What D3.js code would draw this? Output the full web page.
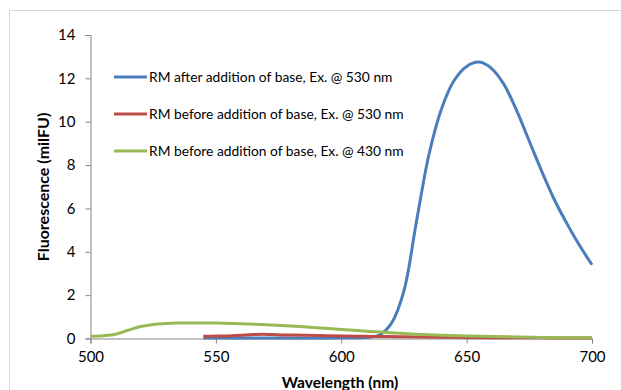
<!DOCTYPE html>
<html><head><meta charset="utf-8">
<script src="https://cdn.jsdelivr.net/npm/d3@7"></script>
<style>
body{margin:0;background:#fff;}
svg{display:block;font-family:Lato,"Open Sans",sans-serif;}
</style></head>
<body><svg id="c" width="621" height="390"></svg>
<script>
const xTicks = [500, 550, 600, 650, 700];
const yTicks = [0, 2, 4, 6, 8, 10, 12, 14];
const seriesNames = [
  "RM after addition of base, Ex. @ 530 nm",
  "RM before addition of base, Ex. @ 530 nm",
  "RM before addition of base, Ex. @ 430 nm"
];
const seriesColors = ["#4A7EBB", "#BE4B48", "#98B954"];

const waveAfter530 = [545,550,555,560,565,570,575,580,585,590,595,600,605,610,615,620,625,630,635,640,645,650,655,660,665,670,675,680,685,690,695,700];
const fluoAfter530 = [0.02,0.02,0.02,0.02,0.02,0.02,0.02,0.02,0.02,0.02,0.02,0.03,0.03,0.05,0.15,0.7,2.2,5.4,8.5,10.6,11.9,12.55,12.75,12.45,11.7,10.5,9.1,7.7,6.4,5.3,4.3,3.4];

const waveBefore530 = [545,550,555,560,565,570,575,580,590,600,610,620,630,640,650,660,670,680,690,700];
const fluoBefore530 = [0.1,0.11,0.12,0.15,0.18,0.19,0.17,0.16,0.14,0.12,0.1,0.09,0.07,0.06,0.05,0.04,0.03,0.03,0.02,0.02];

const waveBefore430 = [500,505,510,515,520,525,530,535,540,550,560,570,580,590,600,610,620,630,640,650,660,670,680,690,700];
const fluoBefore430 = [0.1,0.13,0.2,0.38,0.55,0.65,0.69,0.71,0.72,0.71,0.68,0.64,0.58,0.5,0.42,0.34,0.26,0.2,0.15,0.12,0.09,0.07,0.05,0.04,0.03];

const series = [
  {w: waveAfter530, v: fluoAfter530},
  {w: waveBefore530, v: fluoBefore530},
  {w: waveBefore430, v: fluoBefore430}
];

const svg = d3.select("#c");
svg.append("rect").attr("x",9.5).attr("y",10.5).attr("width",640).attr("height",400)
  .attr("fill","none").attr("stroke","#d9d9d9").attr("stroke-width",1);

const x = d3.scaleLinear().domain([500,700]).range([90.5,592]);
const y = d3.scaleLinear().domain([0,14]).range([338.5,35]);

const axisColor = "#868686";
const gx = svg.append("g").attr("transform",`translate(0,${y(0)})`)
  .call(d3.axisBottom(x).tickValues(xTicks).tickSize(5).tickPadding(8).tickFormat(d3.format("d")));
const gy = svg.append("g").attr("transform",`translate(${x(500)},0)`)
  .call(d3.axisLeft(y).tickValues(yTicks).tickSize(5).tickPadding(10).tickFormat(d3.format("d")));
[gx,gy].forEach(g=>{
  g.selectAll("path,line").attr("stroke",axisColor);
  g.selectAll("text").attr("font-size",15).attr("fill","#000").attr("font-family","Lato,sans-serif");
});

const line = d3.line().x(d=>x(d[0])).y(d=>y(d[1])).curve(d3.curveCatmullRom.alpha(0.5));
series.forEach((s,i)=>{
  svg.append("path").datum(s.w.map((w,j)=>[w,s.v[j]]))
    .attr("d",line).attr("fill","none").attr("stroke",seriesColors[i])
    .attr("stroke-width",3).attr("stroke-linejoin","round");
});

const legendY = [77, 114, 151];
seriesNames.forEach((n,i)=>{
  svg.append("line").attr("x1",114).attr("x2",147).attr("y1",legendY[i]).attr("y2",legendY[i])
    .attr("stroke",seriesColors[i]).attr("stroke-width",3);
  svg.append("text").attr("x",149).attr("y",legendY[i]+5).attr("font-size",13.8)
    .attr("fill","#000").text(n);
});

svg.append("text").attr("x",340).attr("y",388).attr("text-anchor","middle")
  .attr("font-size",15.5).attr("font-weight","bold").text("Wavelength (nm)");
svg.append("text").attr("transform","translate(49,187) rotate(-90)").attr("text-anchor","middle")
  .attr("font-size",16).attr("font-weight","bold").text("Fluorescence (milFU)");
</script></body></html>
